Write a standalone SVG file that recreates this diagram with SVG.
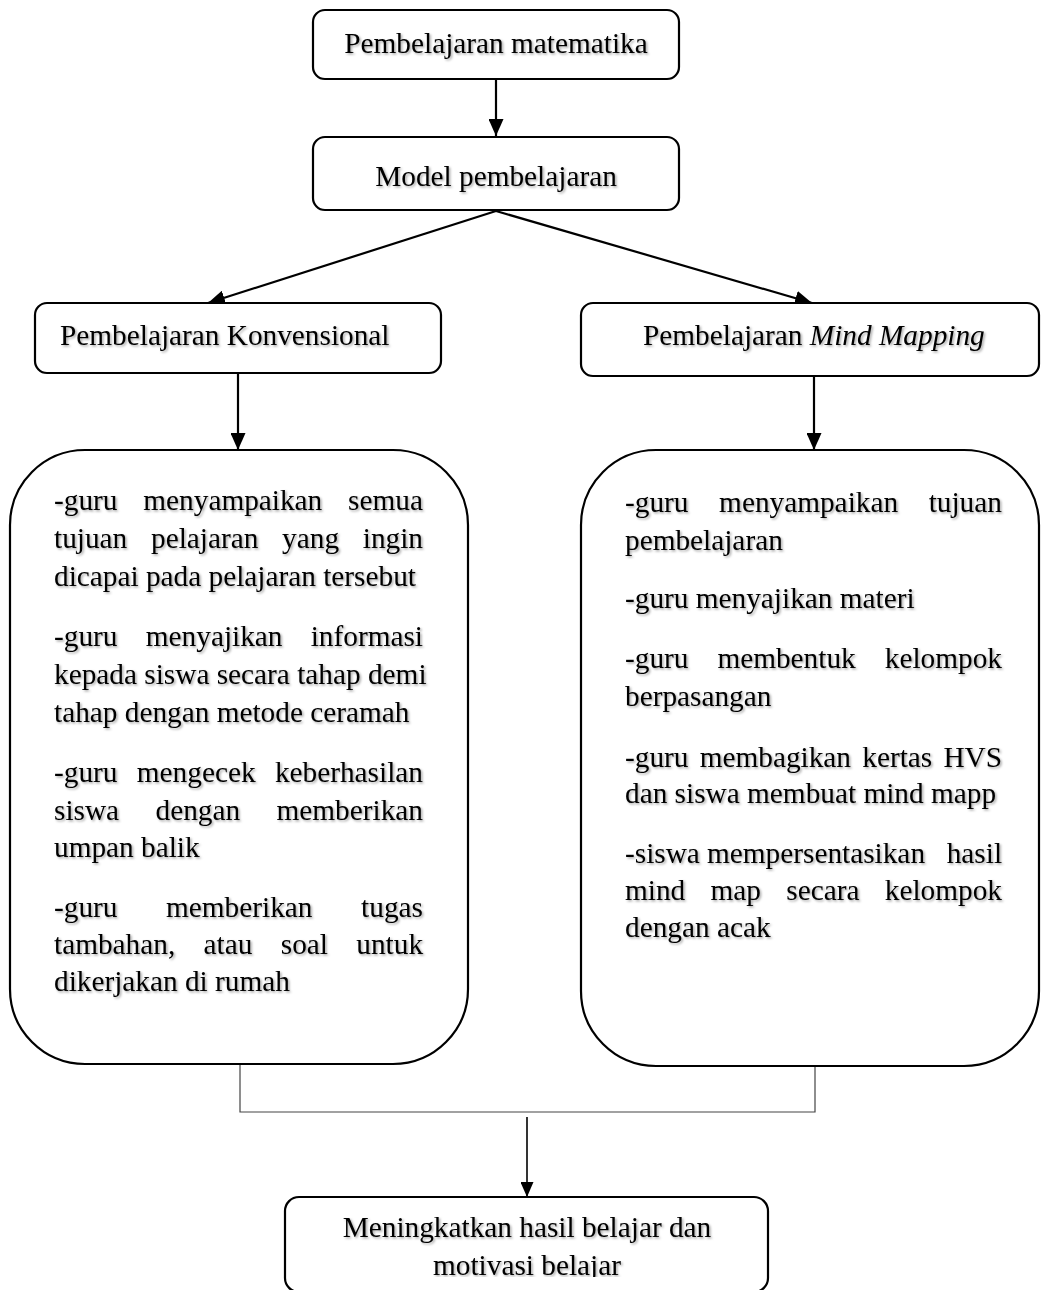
<svg xmlns="http://www.w3.org/2000/svg" width="1041" height="1290" viewBox="0 0 1041 1290">
<style>
.box{fill:#fff;stroke:#000;stroke-width:2.2}
.t{font-family:"Liberation Serif","Times New Roman",serif;font-size:29.3px;fill:#000;filter:url(#sh)}
.c{text-anchor:middle}
.ln{stroke:#000;stroke-width:2.2;fill:none}
.thin{stroke:#444;stroke-width:1.2;fill:none}
</style>
<defs>
<filter id="sh" x="-5%" y="-20%" width="110%" height="150%">
<feDropShadow dx="1.5" dy="1.5" stdDeviation="0.9" flood-color="#000" flood-opacity="0.35"/>
</filter>
<marker id="ah" viewBox="0 0 17 15" refX="17" refY="7.5" markerWidth="17" markerHeight="15" markerUnits="userSpaceOnUse" orient="auto">
<path d="M0,0 L17,7.5 L0,15 Z" fill="#000"/>
</marker>
<marker id="ahs" viewBox="0 0 15 13" refX="15" refY="6.5" markerWidth="15" markerHeight="13" markerUnits="userSpaceOnUse" orient="auto">
<path d="M0,0 L15,6.5 L0,13 Z" fill="#000"/>
</marker>
<clipPath id="clipB"><rect x="280" y="1190" width="500" height="87"/></clipPath>
</defs>

<g id="connectors">
<line class="ln" x1="496" y1="80" x2="496" y2="136" marker-end="url(#ah)"/>
<line class="ln" x1="496" y1="211" x2="208" y2="303" marker-end="url(#ah)"/>
<line class="ln" x1="496" y1="211" x2="812" y2="303" marker-end="url(#ah)"/>
<line class="ln" x1="238" y1="374" x2="238" y2="450" marker-end="url(#ah)"/>
<line class="ln" x1="814" y1="376" x2="814" y2="450" marker-end="url(#ah)"/>
<polyline class="thin" points="240,1065 240,1112 815,1112 815,1066"/>
<line x1="527" y1="1117" x2="527" y2="1197" stroke="#000" stroke-width="1.6" marker-end="url(#ahs)"/>
</g>

<g id="n1">
<rect class="box" x="313" y="10" width="366" height="69" rx="12"/>
<text class="t c" x="496" y="53">Pembelajaran matematika</text>
</g>

<g id="n2">
<rect class="box" x="313" y="137" width="366" height="73" rx="12"/>
<text class="t c" x="496" y="186">Model pembelajaran</text>
</g>

<g id="n3">
<rect class="box" x="35" y="303" width="406" height="70" rx="12"/>
<text class="t" x="60" y="345">Pembelajaran Konvensional</text>
</g>

<g id="n4">
<rect class="box" x="581" y="303" width="458" height="73" rx="12"/>
<text class="t" x="643" y="345">Pembelajaran <tspan font-style="italic">Mind Mapping</tspan></text>
</g>

<g id="n5">
<rect class="box" x="10" y="450" width="458" height="614" rx="75"/>
<text class="t" y="510"><tspan x="54">-guru</tspan><tspan x="143.3">menyampaikan</tspan><tspan x="348.1">semua</tspan></text>
<text class="t" y="548"><tspan x="54">tujuan</tspan><tspan x="151">pelajaran</tspan><tspan x="282.1">yang</tspan><tspan x="362.8">ingin</tspan></text>
<text class="t" x="54" y="586">dicapai pada pelajaran tersebut</text>
<text class="t" y="646"><tspan x="54">-guru</tspan><tspan x="145.8">menyajikan</tspan><tspan x="310.7">informasi</tspan></text>
<text class="t" x="54" y="684">kepada siswa secara tahap demi</text>
<text class="t" x="54" y="722">tahap dengan metode ceramah</text>
<text class="t" y="782"><tspan x="54">-guru</tspan><tspan x="136.8">mengecek</tspan><tspan x="274.9">keberhasilan</tspan></text>
<text class="t" y="820"><tspan x="54">siswa</tspan><tspan x="155.5">dengan</tspan><tspan x="276.5">memberikan</tspan></text>
<text class="t" x="54" y="857">umpan balik</text>
<text class="t" y="917"><tspan x="54">-guru</tspan><tspan x="166">memberikan</tspan><tspan x="361.1">tugas</tspan></text>
<text class="t" y="954"><tspan x="54">tambahan,</tspan><tspan x="203.6">atau</tspan><tspan x="280.8">soal</tspan><tspan x="356.3">untuk</tspan></text>
<text class="t" x="54" y="991">dikerjakan di rumah</text>
</g>

<g id="n6">
<rect class="box" x="581" y="450" width="458" height="616" rx="75"/>
<text class="t" y="512"><tspan x="625">-guru</tspan><tspan x="719.1">menyampaikan</tspan><tspan x="928.7">tujuan</tspan></text>
<text class="t" x="625" y="550">pembelajaran</text>
<text class="t" x="625" y="608">-guru menyajikan materi</text>
<text class="t" y="668"><tspan x="625">-guru</tspan><tspan x="717.4">membentuk</tspan><tspan x="884.8">kelompok</tspan></text>
<text class="t" x="625" y="706">berpasangan</text>
<text class="t" y="767"><tspan x="625">-guru</tspan><tspan x="699.7">membagikan</tspan><tspan x="862.3">kertas</tspan><tspan x="943.4">HVS</tspan></text>
<text class="t" x="625" y="803">dan siswa membuat mind mapp</text>
<text class="t" y="863"><tspan x="625">-siswa</tspan><tspan x="707">mempersentasikan</tspan><tspan x="946.7">hasil</tspan></text>
<text class="t" y="900"><tspan x="625">mind</tspan><tspan x="710.5">map</tspan><tspan x="786.3">secara</tspan><tspan x="884.8">kelompok</tspan></text>
<text class="t" x="625" y="937">dengan acak</text>
</g>

<g id="n7">
<rect class="box" x="285" y="1197" width="483" height="95" rx="14"/>
<g clip-path="url(#clipB)">
<text class="t c" x="527" y="1237">Meningkatkan hasil belajar dan</text>
<text class="t c" x="527" y="1275">motivasi belajar</text>
</g>
</g>
</svg>
